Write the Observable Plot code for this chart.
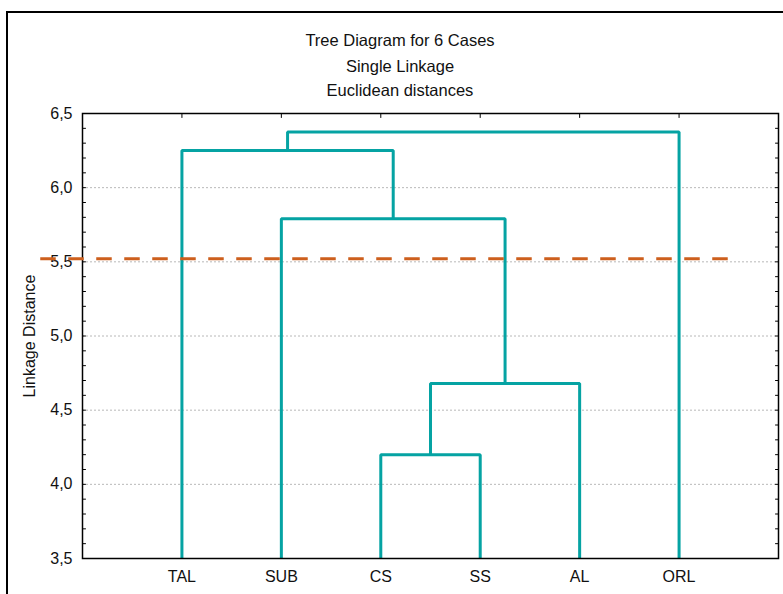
<!DOCTYPE html>
<html>
<head>
<meta charset="utf-8">
<script src="https://cdn.jsdelivr.net/npm/d3@7"></script>
<script src="https://cdn.jsdelivr.net/npm/@observablehq/plot@0.6"></script>
<style>
  body { margin: 0; background: #fff; font-family: "Liberation Sans", Arial, sans-serif; }
  #wrap { position: relative; width: 783px; height: 594px; overflow: hidden; background: #fff; }
  #border { position: absolute; left: 6px; top: 11px; width: 820px; height: 700px; border: 2px solid #000; box-sizing: border-box; }
  .t { position: absolute; left: 0; width: 800px; text-align: center; font-size: 16.5px; line-height: 20px; color: #111; }
  #chart { position: absolute; left: 0; top: 0; }
</style>
</head>
<body>
<div id="wrap">
  <div id="border"></div>
  <div id="titles"></div>
  <div id="chart"></div>
</div>
<script>
// ---- data ----
const titleLines = ["Tree Diagram for 6 Cases", "Single Linkage", "Euclidean distances"];
const leaves = ["TAL", "SUB", "CS", "SS", "AL", "ORL"];
// merges: indices 0-5 are leaves, 6+ are clusters created in order
const mergeLeft   = [2, 6, 1, 0, 9];
const mergeRight  = [3, 4, 7, 8, 5];
const mergeHeight = [4.20, 4.68, 5.79, 6.25, 6.375];
const yDomain = [3.5, 6.5];
const yTickLabels = [3.5, 4.0, 4.5, 5.0, 5.5, 6.0, 6.5];
const gridLines = [4.0, 4.5, 5.0, 5.5, 6.0];
const yMinorTicks = [3.5,3.6,3.7,3.8,3.9,4.0,4.1,4.2,4.3,4.4,4.5,4.6,4.7,4.8,4.9,5.0,5.1,5.2,5.3,5.4,5.5,5.6,5.7,5.8,5.9,6.0,6.1,6.2,6.3,6.4,6.5];
const cutLevel = 5.52;
const cutSpan = [-0.42, 6.5];
const yLabel = "Linkage Distance";

// ---- titles ----
const tEl = document.getElementById("titles");
const titleCenters = [40, 66, 90];
titleLines.forEach((s, i) => {
  const d = document.createElement("div");
  d.className = "t";
  d.style.top = (titleCenters[i] - 10) + "px";
  d.textContent = s;
  tEl.appendChild(d);
});

// ---- build dendrogram paths ----
const leafPos = leaves.map((_, i) => i + 1);
const nodeX = leafPos.slice();
const nodeH = leaves.map(() => yDomain[0]);
const paths = [];
mergeLeft.forEach((a, k) => {
  const b = mergeRight[k], h = mergeHeight[k];
  paths.push({k, x: nodeX[a], y: nodeH[a]});
  paths.push({k, x: nodeX[a], y: h});
  paths.push({k, x: nodeX[b], y: h});
  paths.push({k, x: nodeX[b], y: nodeH[b]});
  nodeX.push((nodeX[a] + nodeX[b]) / 2);
  nodeH.push(h);
});

const tickShape = {draw(ctx, l) { ctx.moveTo(0, 0); ctx.lineTo(0, -l); }};
const teal = "#05a3a3";

const chart = Plot.plot({
  width: 783,
  height: 594,
  marginLeft: 82,
  marginRight: 5,
  marginTop: 113,
  marginBottom: 36,
  style: {background: "transparent", fontSize: "16px", fontFamily: "'Liberation Sans', Arial, sans-serif", color: "#111"},
  x: {domain: [0, leaves.length + 1]},
  y: {domain: yDomain},
  marks: [
    Plot.ruleY(gridLines, {stroke: "#b8b8b8", strokeWidth: 1, strokeDasharray: "2,2"}),
    Plot.vector(yMinorTicks, {y: d => d, frameAnchor: "left", anchor: "start", rotate: 90, length: 3, shape: tickShape, stroke: "#000", strokeWidth: 1}),
    Plot.vector(yMinorTicks, {y: d => d, frameAnchor: "right", anchor: "start", rotate: -90, length: 3, shape: tickShape, stroke: "#000", strokeWidth: 1}),
    Plot.vector(leafPos, {x: d => d, frameAnchor: "top", anchor: "start", rotate: 180, length: 4, shape: tickShape, stroke: "#000", strokeWidth: 1}),
    Plot.vector(leafPos, {x: d => d, frameAnchor: "bottom", anchor: "start", rotate: 0, length: 4, shape: tickShape, stroke: "#000", strokeWidth: 1}),
    Plot.line(paths, {x: "x", y: "y", z: "k", stroke: teal, strokeWidth: 3, strokeLinejoin: "miter", strokeLinecap: "butt"}),
    Plot.frame({stroke: "#000", strokeWidth: 1.5}),
    Plot.axisY(yTickLabels, {tickSize: 0, tickPadding: 10, tickFormat: d => d.toFixed(1).replace(".", ","), label: null}),
    Plot.axisX(leafPos, {tickSize: 0, tickPadding: 12, tickFormat: d => leaves[d - 1], label: null}),
    Plot.text([yLabel], {text: d => d, frameAnchor: "left", textAnchor: "middle", rotate: -90, dx: -53}),
    Plot.ruleY([cutLevel], {x1: () => cutSpan[0], x2: () => cutSpan[1], stroke: "#cd5f1d", strokeWidth: 3, strokeDasharray: "15.5,12.5"})
  ]
});
document.getElementById("chart").appendChild(chart);
</script>
</body>
</html>
